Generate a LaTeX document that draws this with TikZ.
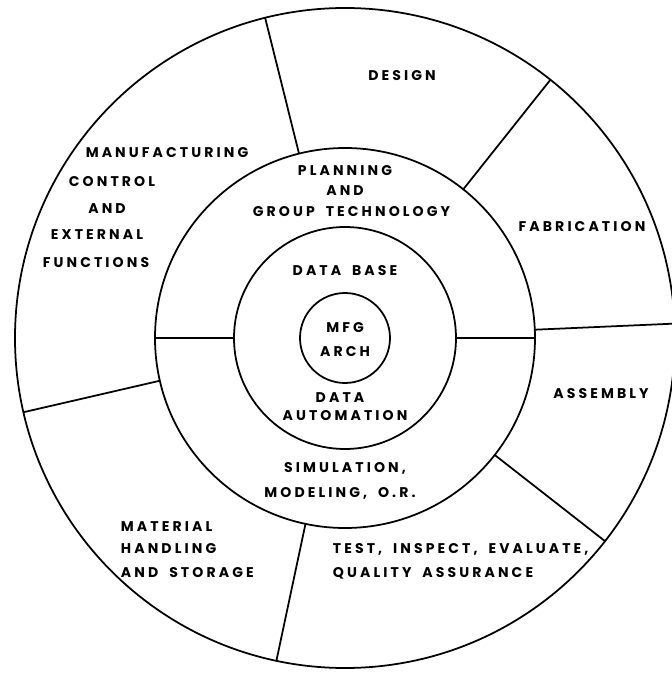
\documentclass[tikz,border=0pt]{standalone}
\usepackage{fontspec}
\setmainfont{Poppins}[LetterSpace=22,WordSpace=1.8]

\begin{document}
\begin{tikzpicture}[line width=1pt,
  lbl/.style={outer sep=0pt, inner sep=0pt, font=\fontsize{8}{9.5}\selectfont\bfseries}]
\useasboundingbox (-6.9,-6.72) rectangle (6.52,6.76);

% rings
\draw (0,0) circle[radius=6.6];
\draw (0,0) circle[radius=3.8];
\draw (0,0) circle[radius=2.22];
\draw (0,0) circle[radius=0.9];

% dividers of the outer ring
\foreach \ang in {104,51.5,2.5,-38,-102,193}
  \draw (\ang:3.8) -- (\ang:6.6);
% dividers of the middle ring
\draw (180:2.22) -- (180:3.8);
\draw (0:2.22) -- (0:3.8);

% outer ring
\node[lbl] (design) at (1.14,5.24) {DESIGN};
\node[lbl] (fab) at (4.74,2.22) {FABRICATION};
\node[lbl] (asm) at (5.12,-1.12) {ASSEMBLY};
\node[lbl] (mfc1) at (-3.56,3.70) {MANUFACTURING};
\node[lbl] (mfc2) at (-4.66,3.12) {CONTROL};
\node[lbl] (mfc3) at (-4.76,2.58) {AND};
\node[lbl] (mfc4) at (-4.96,2.06) {EXTERNAL};
\node[lbl] (mfc5) at (-4.98,1.50) {FUNCTIONS};
\node[lbl,anchor=west] (mhs1) at (-4.48,-3.78) {MATERIAL};
\node[lbl,anchor=west] (mhs2) at (-4.48,-4.22) {HANDLING};
\node[lbl,anchor=west] (mhs3) at (-4.48,-4.70) {AND STORAGE};
\node[lbl,anchor=west] (tiq1) at (-0.24,-4.22) {TEST, INSPECT, EVALUATE,};
\node[lbl,anchor=west] (tiq2) at (-0.24,-4.70) {QUALITY ASSURANCE};

% middle ring
\node[lbl] (pgt1) at (0,3.34) {PLANNING};
\node[lbl] (pgt2) at (0,2.94) {AND};
\node[lbl] (pgt3) at (0.13,2.52) {GROUP TECHNOLOGY};
\node[lbl] (smo1) at (0,-2.6) {SIMULATION,};
\node[lbl] (smo2) at (-0.1,-3.1) {MODELING, O.R.};

% data rings
\node[lbl] (dbase) at (0,1.34) {DATA BASE};
\node[lbl] (dauto1) at (-0.1,-1.2) {DATA};
\node[lbl] (dauto2) at (0,-1.56) {AUTOMATION};
\node[lbl] (arch1) at (0,0.2) {MFG};
\node[lbl] (arch2) at (0,-0.28) {ARCH};

\end{tikzpicture}
\end{document}
